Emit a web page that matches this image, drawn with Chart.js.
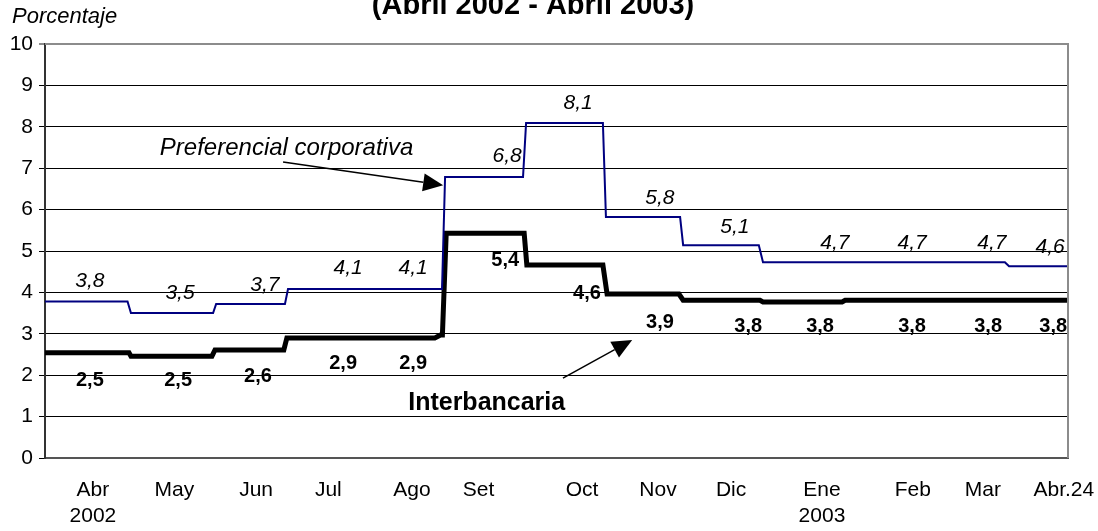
<!DOCTYPE html>
<html>
<head>
<meta charset="utf-8">
<script src="https://cdn.jsdelivr.net/npm/chart.js@4.4.0/dist/chart.umd.min.js"></script>
<style>
  html, body { margin: 0; padding: 0; background: #fff; }
  #wrap { width: 1098px; height: 531px; position: relative; }
</style>
</head>
<body>
<div id="wrap"><canvas id="chart"></canvas></div>
<script>
// x = business day since start of Apr 2002, y = percent

// Preferencial corporativa (step vertices)
const prefDays = [0, 21.7, 22.6, 44.2, 45.0, 63.1, 63.9, 104.4, 105.2, 125.7, 126.5, 146.7, 147.5, 167.0, 167.8, 187.7, 188.8, 252.4, 253.5, 269];
const prefVals = [3.78, 3.78, 3.50, 3.50, 3.72, 3.72, 4.08, 4.08, 6.79, 6.79, 8.09, 8.09, 5.82, 5.82, 5.14, 5.14, 4.73, 4.73, 4.63, 4.63];

// Interbancaria (step vertices)
const interDays = [0, 22.1, 22.6, 43.9, 44.7, 62.8, 63.6, 102.5, 104.0, 104.5, 105.5, 126.0, 126.7, 146.7, 147.8, 166.7, 167.8, 188.0, 188.8, 209.6, 210.4, 269];
const interVals = [2.54, 2.54, 2.46, 2.46, 2.61, 2.61, 2.90, 2.90, 2.97, 2.97, 5.43, 5.43, 4.66, 4.66, 3.96, 3.96, 3.81, 3.81, 3.77, 3.77, 3.81, 3.81];

// monthly average labels
const prefLabelDays = [11.8, 35.5, 57.8, 79.7, 96.8, 121.5, 140.2, 161.7, 181.4, 207.7, 228.0, 249.0, 264.3];
const prefLabelVals = [3.8, 3.5, 3.7, 4.1, 4.1, 6.8, 8.1, 5.8, 5.1, 4.7, 4.7, 4.7, 4.6];
const interLabelDays = [11.8, 35.0, 56.0, 78.4, 96.8, 121.0, 142.5, 161.7, 184.9, 203.8, 228.0, 248.0, 265.1];
const interLabelVals = [2.5, 2.5, 2.6, 2.9, 2.9, 5.4, 4.6, 3.9, 3.8, 3.8, 3.8, 3.8, 3.8];

// x axis labels
const tickDays = [12.6, 34.0, 55.5, 74.5, 96.5, 114.0, 141.2, 161.2, 180.4, 204.3, 228.2, 246.6, 267.9];
const tickLabels = [['Abr', '2002'], 'May', 'Jun', 'Jul', 'Ago', 'Set', 'Oct', 'Nov', 'Dic', ['Ene', '2003'], 'Feb', 'Mar', 'Abr.24'];

const FONT = '"Liberation Sans", Arial, sans-serif';

function toPoints(xs, ys) {
    return xs.map(function (x, i) { return { x: x, y: ys[i] }; });
}
function fmt(v) {
    return v.toFixed(1).replace('.', ',');
}

// labels, title, border and arrows
const extras = {
    id: 'extras',
    afterDatasetsDraw(chart) {
        const ctx = chart.ctx;
        const xs = chart.scales.x, ys = chart.scales.y;
        const area = chart.chartArea;
        ctx.save();

        // grey frame top/right
        ctx.strokeStyle = '#8c8c8c';
        ctx.lineWidth = 2;
        ctx.beginPath();
        ctx.moveTo(area.left, area.top);
        ctx.lineTo(area.right, area.top);
        ctx.lineTo(area.right, area.bottom);
        ctx.stroke();

        ctx.textAlign = 'center';
        ctx.textBaseline = 'middle';
        ctx.fillStyle = '#000';
        ctx.font = 'italic 21px ' + FONT;
        prefLabelDays.forEach(function (d, i) {
            ctx.fillText(fmt(prefLabelVals[i]), xs.getPixelForValue(d), ys.getPixelForValue(prefLabelVals[i]) - 20);
        });
        ctx.font = 'bold 20px ' + FONT;
        interLabelDays.forEach(function (d, i) {
            ctx.fillText(fmt(interLabelVals[i]), xs.getPixelForValue(d), ys.getPixelForValue(interLabelVals[i]) + 26);
        });

        // annotations
        ctx.textAlign = 'left';
        ctx.textBaseline = 'alphabetic';
        ctx.font = 'italic 24px ' + FONT;
        ctx.fillText('Preferencial corporativa', xs.getPixelForValue(30.2), ys.getPixelForValue(7.32));
        ctx.font = 'bold 25px ' + FONT;
        ctx.fillText('Interbancaria', xs.getPixelForValue(95.5), ys.getPixelForValue(1.16));

        function arrow(d0, v0, d1, v1) {
            const x0 = xs.getPixelForValue(d0), y0 = ys.getPixelForValue(v0);
            const x1 = xs.getPixelForValue(d1), y1 = ys.getPixelForValue(v1);
            const a = Math.atan2(y1 - y0, x1 - x0);
            const len = 20, half = 9;
            const bx = x1 - len * Math.cos(a), by = y1 - len * Math.sin(a);
            ctx.strokeStyle = '#000';
            ctx.lineWidth = 1.5;
            ctx.beginPath();
            ctx.moveTo(x0, y0);
            ctx.lineTo(bx, by);
            ctx.stroke();
            ctx.beginPath();
            ctx.moveTo(x1, y1);
            ctx.lineTo(bx + half * Math.sin(a), by - half * Math.cos(a));
            ctx.lineTo(bx - half * Math.sin(a), by + half * Math.cos(a));
            ctx.closePath();
            ctx.fill();
        }
        arrow(62.6, 7.15, 104.7, 6.59);
        arrow(136.2, 1.93, 154.4, 2.85);

        // title + unit
        ctx.textAlign = 'center';
        ctx.font = 'bold 29px ' + FONT;
        ctx.fillText('(Abril 2002 - Abril 2003)', 533, 14);
        ctx.textAlign = 'left';
        ctx.font = 'italic 22px ' + FONT;
        ctx.fillText('Porcentaje', 12, 23);
        ctx.restore();
    }
};

new Chart(document.getElementById('chart'), {
    type: 'line',
    data: {
        datasets: [{
            label: 'Preferencial corporativa',
            data: toPoints(prefDays, prefVals),
            borderColor: '#000080',
            borderWidth: 2,
            pointRadius: 0,
            tension: 0
        }, {
            label: 'Interbancaria',
            data: toPoints(interDays, interVals),
            borderColor: '#000',
            borderWidth: 5,
            pointRadius: 0,
            tension: 0
        }]
    },
    options: {
        responsive: true,
        maintainAspectRatio: false,
        animation: false,
        layout: { padding: { top: 44, right: 30, left: 0, bottom: 0 } },
        plugins: {
            legend: { display: false },
            tooltip: { enabled: false }
        },
        scales: {
            x: {
                type: 'linear',
                min: 0,
                max: 269,
                afterBuildTicks(scale) {
                    scale.ticks = tickDays.map(function (d) { return { value: d }; });
                },
                afterFit(scale) {
                    scale.height = 73;
                    scale.paddingLeft = 0;
                    scale.paddingRight = 0;
                },
                grid: { display: false },
                border: { display: true, color: '#555', width: 2 },
                ticks: {
                    autoSkip: false,
                    maxRotation: 0,
                    padding: 12,
                    color: '#000',
                    font: { family: FONT, size: 21, lineHeight: 1.2 },
                    callback(value, index) { return tickLabels[index]; }
                }
            },
            y: {
                min: 0,
                max: 10,
                afterFit(scale) {
                    scale.width = 45;
                    scale.paddingTop = 0;
                    scale.paddingBottom = 0;
                },
                grid: {
                    color(c) { return c.tick && c.tick.value === 10 ? '#8c8c8c' : '#000'; },
                    lineWidth(c) { return c.tick && c.tick.value === 10 ? 2 : 1; },
                    tickLength: 6
                },
                border: { display: true, color: '#333', width: 2 },
                ticks: {
                    stepSize: 1,
                    padding: 6,
                    color: '#000',
                    font: { family: FONT, size: 21 }
                }
            }
        }
    },
    plugins: [extras]
});
</script>
</body>
</html>
